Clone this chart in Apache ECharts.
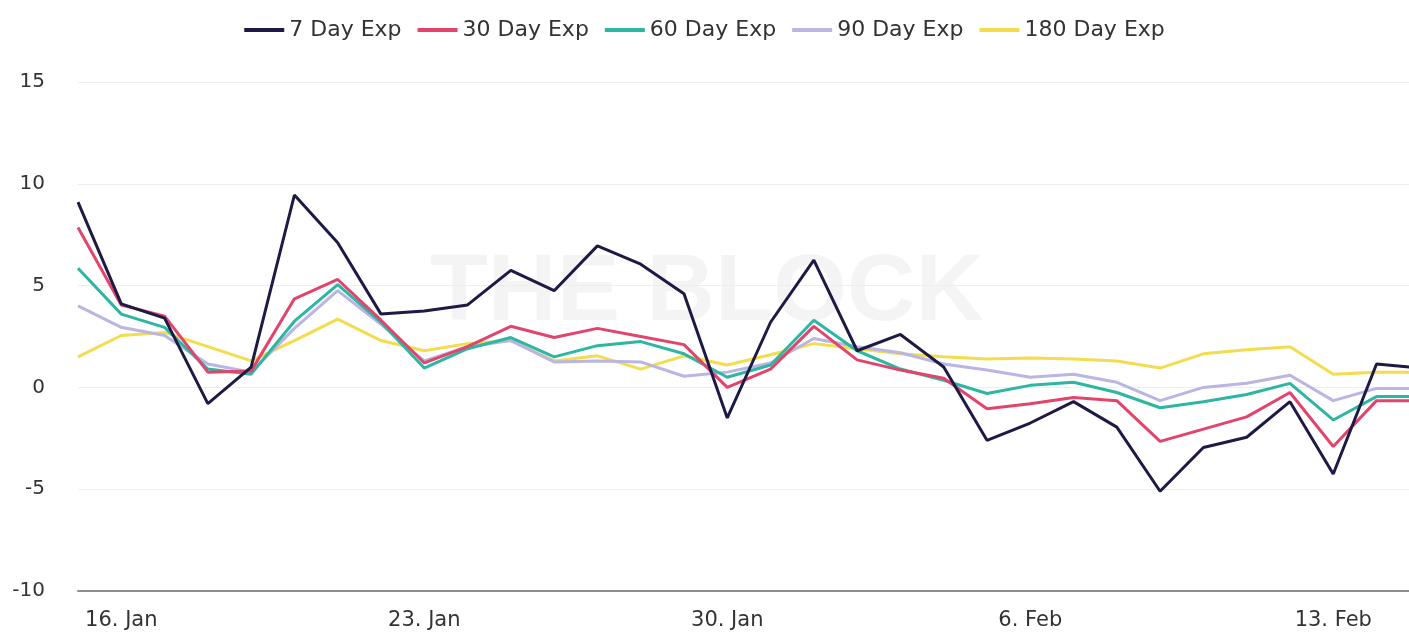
<!DOCTYPE html>
<html>
<head>
<meta charset="utf-8">
<script src="https://cdn.jsdelivr.net/npm/echarts@6/dist/echarts.min.js"></script>
<style>
	html, body { margin: 0; padding: 0; background: #fff; }
	#chart { width: 1409px; height: 633px; }
</style>
</head>
<body>
<div id="chart"></div>
<script>
// dates, one point per day from 15 Jan to 15 Feb
var days = ['15 Jan', '16 Jan', '17 Jan', '18 Jan', '19 Jan', '20 Jan', '21 Jan', '22 Jan', '23 Jan', '24 Jan',
	'25 Jan', '26 Jan', '27 Jan', '28 Jan', '29 Jan', '30 Jan', '31 Jan', '1 Feb', '2 Feb', '3 Feb',
	'4 Feb', '5 Feb', '6 Feb', '7 Feb', '8 Feb', '9 Feb', '10 Feb', '11 Feb', '12 Feb', '13 Feb',
	'14 Feb', '15 Feb'];

// tick labels on the x axis and the day index they sit on
var tickLabels = ['16. Jan', '23. Jan', '30. Jan', '6. Feb', '13. Feb'];
var tickIndex = [1, 8, 15, 22, 29];

var seriesNames = ['7 Day Exp', '30 Day Exp', '60 Day Exp', '90 Day Exp', '180 Day Exp'];

var exp7 = [9.1, 4.1, 3.4, -0.8, 1.0, 9.45, 7.1, 3.6, 3.75, 4.05,
	5.75, 4.75, 6.95, 6.05, 4.6, -1.5, 3.2, 6.25, 1.8, 2.6,
	1.0, -2.6, -1.75, -0.7, -1.95, -5.1, -2.95, -2.45, -0.7, -4.25,
	1.15, 0.95];
var exp30 = [7.85, 4.05, 3.5, 0.75, 0.8, 4.35, 5.3, 3.3, 1.2, 2.0,
	3.0, 2.45, 2.9, 2.5, 2.1, 0.0, 0.9, 3.0, 1.35, 0.85,
	0.45, -1.05, -0.8, -0.5, -0.65, -2.65, -2.05, -1.45, -0.25, -2.9,
	-0.65, -0.65];
var exp60 = [5.85, 3.6, 2.95, 0.9, 0.65, 3.25, 5.05, 3.2, 0.95, 1.9,
	2.45, 1.5, 2.05, 2.25, 1.65, 0.5, 1.1, 3.3, 1.8, 0.9,
	0.35, -0.3, 0.1, 0.25, -0.25, -1.0, -0.7, -0.35, 0.2, -1.6,
	-0.45, -0.45];
var exp90 = [4.0, 2.95, 2.55, 1.15, 0.75, 2.9, 4.75, 3.1, 1.3, 2.0,
	2.3, 1.25, 1.3, 1.25, 0.55, 0.75, 1.2, 2.4, 2.0, 1.7,
	1.15, 0.85, 0.5, 0.65, 0.25, -0.65, 0.0, 0.2, 0.6, -0.65,
	-0.05, -0.05];
var exp180 = [1.5, 2.55, 2.7, 2.0, 1.3, 2.3, 3.35, 2.3, 1.8, 2.15,
	2.3, 1.3, 1.55, 0.9, 1.55, 1.1, 1.6, 2.15, 1.9, 1.65,
	1.5, 1.4, 1.45, 1.4, 1.3, 0.95, 1.65, 1.85, 2.0, 0.65,
	0.75, 0.75];

var colors = ['#1d1b45', '#e2446b', '#2db6a1', '#bab5e2', '#f3dd4e'];

// 把数组变成 [天序号, 数值]
function toPoints(values) {
	var pts = [];
	for (var i = 0; i < values.length; ++i) {
		pts.push([i, values[i]]);
	}
	return pts;
}

var allValues = [exp7, exp30, exp60, exp90, exp180];
var series = [];
for (var s = 0; s < seriesNames.length; ++s) {
	series.push({
		name: seriesNames[s],
		type: 'line',
		data: toPoints(allValues[s]),
		showSymbol: false,
		lineStyle: { width: 3 },
		z: 10 - s
	});
}

var myChart = echarts.init(document.getElementById('chart'));

var option = {
	animation: false,
	color: colors,
	textStyle: { fontFamily: 'DejaVu Sans, sans-serif' },
	graphic: [{
		type: 'text',
		left: 430,
		top: 246,
		z: 0,
		silent: true,
		style: {
			text: 'THE BLOCK',
			fontSize: 95,
			fontWeight: 'bold',
			fontFamily: 'Liberation Sans, Arial, sans-serif',
			fill: 'rgba(0,0,0,0.045)'
		}
	}],
	legend: {
		top: 14,
		left: 'center',
		icon: 'rect',
		itemWidth: 40,
		itemHeight: 4,
		itemGap: 16,
		textStyle: { fontSize: 22, color: '#333' },
		data: seriesNames
	},
	grid: {
		left: 78,
		right: 0,
		top: 82,
		bottom: 42,
		outerBoundsMode: 'none'
	},
	xAxis: {
		type: 'value',
		min: 0,
		max: 30.75,
		interval: 1,
		splitLine: { show: false },
		axisTick: { show: false },
		axisLine: { show: true, onZero: false, lineStyle: { color: '#8f8f8f', width: 2 } },
		axisLabel: {
			fontSize: 21,
			color: '#333',
			margin: 19,
			showMaxLabel: false,
			formatter: function(v) {
				var k = tickIndex.indexOf(v);
				return k >= 0 ? tickLabels[k] : '';
			}
		}
	},
	yAxis: {
		type: 'value',
		min: -10,
		max: 15,
		interval: 5,
		axisLine: { show: false },
		axisTick: { show: false },
		splitLine: { lineStyle: { color: '#eeeeee', width: 1 } },
		axisLabel: { fontSize: 20, color: '#333', margin: 33 }
	},
	series: series
};

myChart.setOption(option);
</script>
</body>
</html>
